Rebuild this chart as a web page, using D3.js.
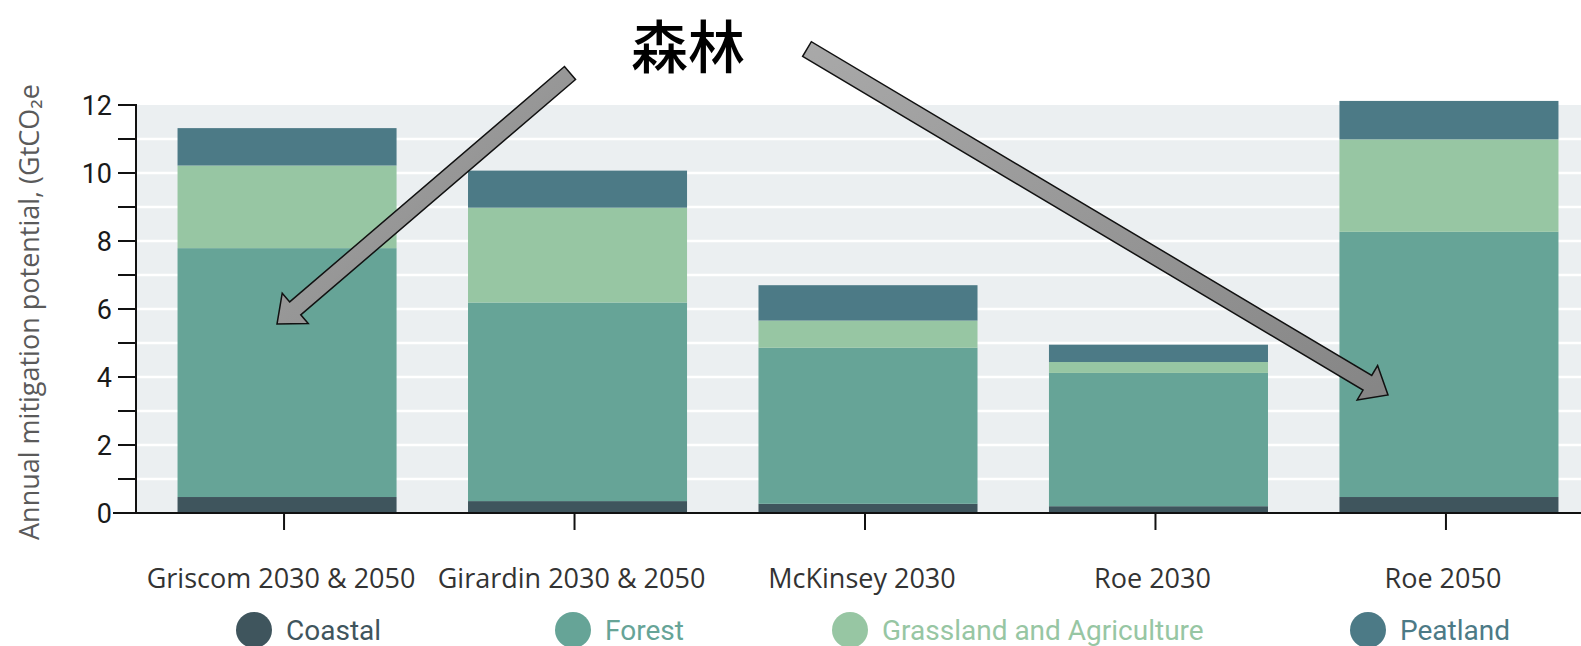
<!DOCTYPE html>
<html lang="en">
<head>
<meta charset="utf-8">
<script src="https://cdn.jsdelivr.net/npm/d3@7"></script>
<style>
  body { margin: 0; background: #fff; }
  svg { display: block; background: #fff; }
  .ytick text { font-family: Roboto, sans-serif; font-size: 27px; fill: #1a1a1a; }
  .xlab { font-family: "Open Sans", sans-serif; font-size: 27px; fill: #333; }
  .legend text { font-family: Roboto, sans-serif; font-size: 28px; }
</style>
</head>
<body>
<svg width="1581" height="646"></svg>
<script>
// studies on the x axis
const studies = ["Griscom 2030 & 2050", "Girardin 2030 & 2050", "McKinsey 2030", "Roe 2030", "Roe 2050"];
// stacked layers, bottom to top
const layers = ["Coastal", "Forest", "Grassland and Agriculture", "Peatland"];
const layerColors = ["#3f555d", "#66a497", "#97c6a3", "#4c7a86"];
// GtCO2e per year, one value per study
const coastal   = [0.47, 0.35, 0.27, 0.20, 0.47];
const forest    = [7.32, 5.84, 4.59, 3.92, 7.80];
const grassland = [2.43, 2.79, 0.80, 0.32, 2.72];
const peatland  = [1.10, 1.09, 1.04, 0.51, 1.13];
const yTicks = d3.range(0, 13);
const yLabels = [0, 2, 4, 6, 8, 10, 12];

const svg = d3.select("svg");
const W = 1581;

const rows = studies.map((s, i) => ({
  study: s,
  "Coastal": coastal[i],
  "Forest": forest[i],
  "Grassland and Agriculture": grassland[i],
  "Peatland": peatland[i]
}));

const x = d3.scaleBand().domain(studies).range([136, 1600]).paddingInner(0.246).paddingOuter(0.143);
const y = d3.scaleLinear().domain([0, 12]).range([513, 105]);
const color = d3.scaleOrdinal().domain(layers).range(layerColors);

// plot background + white grid
svg.append("rect")
  .attr("x", 136).attr("y", y(12))
  .attr("width", W - 136).attr("height", y(0) - y(12))
  .attr("fill", "#ebeff1");

svg.append("g").selectAll("line").data(yTicks.slice(1, 12)).join("line")
  .attr("x1", 137).attr("x2", W)
  .attr("y1", d => y(d)).attr("y2", d => y(d))
  .attr("stroke", "#fff").attr("stroke-width", 2.5);

// bars
const series = d3.stack().keys(layers)(rows);
svg.append("g").selectAll("g").data(series).join("g")
  .attr("fill", d => color(d.key))
  .selectAll("rect").data(d => d).join("rect")
  .attr("x", d => x(d.data.study))
  .attr("width", x.bandwidth())
  .attr("y", d => y(d[1]))
  .attr("height", d => y(d[0]) - y(d[1]));

// y axis
const yAxis = svg.append("g").attr("class", "ytick");
yAxis.append("line")
  .attr("x1", 136).attr("x2", 136).attr("y1", y(12) - 1).attr("y2", y(0))
  .attr("stroke", "#111").attr("stroke-width", 2);
yAxis.selectAll("line.t").data(yTicks).join("line").attr("class", "t")
  .attr("x1", 118).attr("x2", 136)
  .attr("y1", d => y(d)).attr("y2", d => y(d))
  .attr("stroke", "#111").attr("stroke-width", 2);
yAxis.selectAll("text").data(yLabels).join("text")
  .attr("x", 112).attr("y", d => y(d))
  .attr("dy", "0.36em").attr("text-anchor", "end")
  .text(d => d);

// x axis
svg.append("line")
  .attr("x1", 113).attr("x2", W).attr("y1", y(0)).attr("y2", y(0))
  .attr("stroke", "#111").attr("stroke-width", 2);
svg.append("g").selectAll("line").data(studies).join("line")
  .attr("x1", d => x(d) + x.bandwidth() / 2 - 3).attr("x2", d => x(d) + x.bandwidth() / 2 - 3)
  .attr("y1", y(0)).attr("y2", y(0) + 17)
  .attr("stroke", "#111").attr("stroke-width", 2);
svg.append("g").selectAll("text").data(studies).join("text")
  .attr("class", "xlab")
  .attr("x", d => x(d) + x.bandwidth() / 2 - 6)
  .attr("y", 588)
  .attr("text-anchor", "middle")
  .text(d => d);

// y axis title (cut off at the top in the original)
svg.append("text")
  .attr("transform", "translate(39,540) rotate(-90)")
  .attr("font-family", "'Open Sans', sans-serif")
  .attr("font-size", 27)
  .attr("fill", "#5a5a5a")
  .text("Annual mitigation potential, (GtCO\u2082e");

// legend
const legendX = [254, 573, 850, 1368];
const legend = svg.append("g").attr("class", "legend").selectAll("g").data(layers).join("g")
  .attr("transform", (d, i) => `translate(${legendX[i]},630)`);
legend.append("circle").attr("r", 18).attr("fill", d => color(d));
legend.append("text")
  .attr("x", 32).attr("y", 10)
  .attr("fill", d => color(d))
  .text(d => d);

// title
svg.append("text")
  .attr("x", 688).attr("y", 68)
  .attr("text-anchor", "middle")
  .attr("font-family", "'Noto Sans CJK SC', sans-serif")
  .attr("font-weight", 500)
  .attr("font-size", 57)
  .attr("fill", "#000")
  .text("森林");

// block arrows from the title
const grad = svg.append("defs").append("linearGradient")
  .attr("id", "arrowFill").attr("x1", 0).attr("y1", 0).attr("x2", 1).attr("y2", 1);
grad.append("stop").attr("offset", 0).attr("stop-color", "#a9a9a9");
grad.append("stop").attr("offset", 1).attr("stop-color", "#858585");

const arrows = [
  { from: [570, 73], to: [277, 324] },
  { from: [807, 49], to: [1388, 395] }
];
const shaftHalf = 8.5, headHalf = 20, headLen = 24;

function arrowPath(a) {
  const [x0, y0] = a.from, [x1, y1] = a.to;
  const len = Math.hypot(x1 - x0, y1 - y0);
  const ux = (x1 - x0) / len, uy = (y1 - y0) / len;
  const nx = -uy, ny = ux;
  const bx = x1 - ux * headLen, by = y1 - uy * headLen;
  const p = [
    [x0 + nx * shaftHalf, y0 + ny * shaftHalf],
    [bx + nx * shaftHalf, by + ny * shaftHalf],
    [bx + nx * headHalf, by + ny * headHalf],
    [x1, y1],
    [bx - nx * headHalf, by - ny * headHalf],
    [bx - nx * shaftHalf, by - ny * shaftHalf],
    [x0 - nx * shaftHalf, y0 - ny * shaftHalf]
  ];
  return "M" + p.map(q => q.join(",")).join("L") + "Z";
}

svg.append("g").selectAll("path").data(arrows).join("path")
  .attr("d", arrowPath)
  .attr("fill", "url(#arrowFill)")
  .attr("stroke", "#111")
  .attr("stroke-width", 1.5)
  .attr("stroke-linejoin", "miter");
</script>
</body>
</html>
